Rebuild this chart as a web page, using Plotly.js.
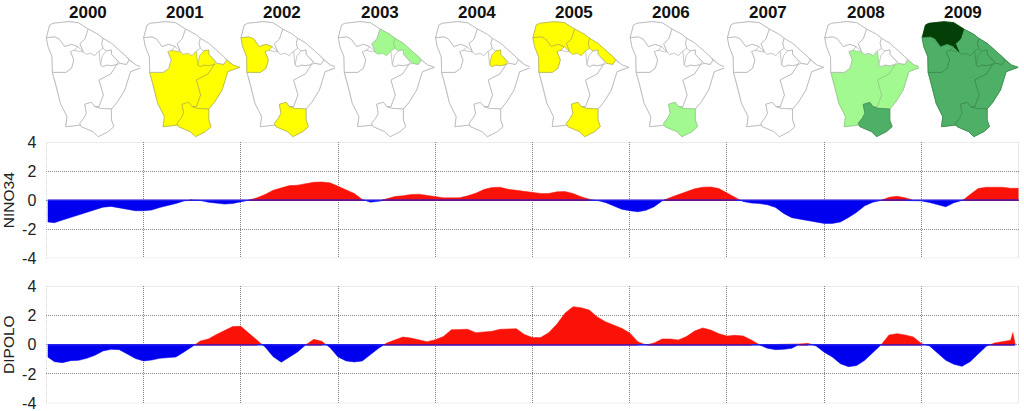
<!DOCTYPE html>
<html><head><meta charset="utf-8">
<script src="https://cdn.plot.ly/plotly-3.0.1.min.js"></script>
<style>html,body{margin:0;padding:0;background:#fff}</style></head>
<body><div id="chart" style="width:1024px;height:411px"></div>
<script>
const years = [2000,2001,2002,2003,2004,2005,2006,2007,2008,2009];
const axisYears = [2000,2001,2002,2003,2004,2005,2006,2007,2008,2009,2010];
const yTicks = [4,2,0,-2,-4];
const yTickText = ['4','2','0','-2','-4'];

// Monthly index values (Jan 2000 onward)
const nino34 = [
 -1.5,-1.55,-1.37,-1.19,-1.0,-.82,-.64,-.48,-.43,-.53,-.66,-.73,
 -.73,-.68,-.5,-.39,-.23,-.05,.02,-.02,-.14,-.23,-.27,-.23,
 -.14,0,.16,.39,.68,.85,1.0,1.03,1.12,1.23,1.25,1.19,
 .96,.73,.46,.05,-.14,-.07,.09,.25,.3,.39,.41,.34,
 .25,.16,.16,.16,.3,.48,.73,.87,.89,.75,.68,.62,
 .55,.46,.46,.57,.59,.46,.23,.07,-.02,-.16,-.37,-.62,
 -.73,-.8,-.7,-.46,-.05,.18,.39,.62,.78,.89,.91,.8,
 .5,.16,-.09,-.2,-.23,-.32,-.5,-.91,-1.21,-1.32,-1.39,-1.5,
 -1.6,-1.6,-1.5,-1.19,-.84,-.39,-.14,-.02,.2,.27,.16,0,
 -.05,-.16,-.32,-.46,-.18,-.05,.39,.8,.89,.91,.89,.82,.82
];
const dipolo = [
 -.84,-1.16,-1.23,-1.09,-1.07,-.93,-.73,-.43,-.32,-.34,-.64,-.95,
 -1.11,-1.05,-.93,-.86,-.84,-.5,-.14,.25,.39,.7,.98,1.23,
 1.25,.8,.3,-.16,-.82,-1.2,-.84,-.5,-.02,.36,.23,-.2,
 -.84,-1.11,-1.18,-1.11,-.66,-.25,.11,.32,.52,.45,.32,.2,
 .34,.55,1.02,1.02,1.05,.82,.89,.91,1.05,1.09,1.09,.7,
 .48,.48,.82,1.39,2.14,2.59,2.52,2.36,1.89,1.57,1.32,1.11,
 .8,.2,-.02,.11,.39,.39,.32,.55,.93,1.14,1.0,.75,
 .59,.64,.59,.32,-.02,-.25,-.34,-.32,-.25,.05,.09,-.09,
 -.52,-.84,-1.3,-1.5,-1.43,-1.07,-.57,-.02,.66,.75,.66,.52,
 .07,-.09,-.61,-1.07,-1.34,-1.48,-1.16,-.66,-.11,.11,.2,.3
];
const dipoloTailX = [2009.94,2009.955,2009.965];
const dipoloTailY = [.82,.3,0];

// Region outlines of the state map, in map units (y grows downward)
const state = [[10,68],[16,45],[20,30],[30,25],[75,20],[105,23],[135,42],[165,58],[180,70],[205,85],[250,125],[258,135],[278,150],[298,157],[280,163],[262,170],[245,225],[222,262],[205,282],[205,315],[212,335],[195,350],[165,365],[150,350],[115,335],[113,330],[68,335],[72,305],[52,265],[40,215],[28,172],[27,125],[15,95]];
const regionCentral = [[82,110],[88,105],[113,110],[138,112],[168,110],[172,150],[180,155],[190,150],[205,152],[222,148],[203,177],[168,195],[181,240],[168,275],[155,275],[145,262],[125,268],[130,295],[122,310],[110,325],[113,330],[68,335],[72,305],[52,265],[40,215],[28,172],[68,172],[85,160],[92,135]];
const regionNorthWest = [[10,68],[16,45],[20,30],[30,25],[75,20],[105,23],[135,42],[125,72],[110,86],[120,110],[104,95],[85,88],[65,95],[48,72],[35,66]];
const regionIbiapaba = [[10,68],[35,66],[48,72],[65,95],[85,88],[104,95],[95,105],[82,110],[92,135],[85,160],[68,172],[28,172],[27,125],[15,95]];
const regionNorth = [[135,42],[165,58],[180,70],[176,85],[180,100],[165,110],[155,122],[143,115],[128,118],[120,110],[110,86],[125,72]];
const regionCoast = [[180,70],[205,85],[250,125],[258,135],[250,148],[232,145],[205,118],[205,105],[190,108],[180,100],[176,85]];
const regionInner = [[172,150],[178,122],[190,108],[205,105],[205,118],[225,140],[222,148],[205,152],[190,150],[180,155]];
const regionEast = [[222,148],[232,145],[250,148],[258,135],[278,150],[298,157],[280,163],[262,170],[245,225],[222,262],[205,282],[170,280],[155,275],[168,275],[181,240],[168,195],[203,177]];
const regionSouth = [[125,268],[145,262],[155,275],[170,280],[205,282],[205,315],[212,335],[195,350],[165,365],[150,350],[115,335],[110,325],[122,310],[130,295]];

const regionList = [regionCentral,regionEast,regionNorth,regionCoast,regionNorthWest,regionIbiapaba,regionInner,regionSouth];
const W='#ffffff', Y='#ffff00', L='#a2f98f', M='#4db066', D='#053f08';
const outline = {[W]:'#b0b0b0',[Y]:'#b4b438',[L]:'#8ccc80',[M]:'#3c8a50',[D]:'#053f08'};
// colours per year, in the order of regionList
const yearColours = [
 [W,W,W,W,W,W,W,W],
 [Y,Y,W,W,W,W,Y,Y],
 [W,W,W,W,W,Y,W,Y],
 [W,W,L,L,W,W,W,W],
 [W,W,W,W,W,W,Y,W],
 [W,W,Y,Y,Y,Y,W,Y],
 [W,W,W,W,W,W,W,L],
 [W,W,W,W,W,W,W,W],
 [L,L,W,W,W,W,W,M],
 [M,M,M,M,D,M,M,M]
];
const stateBase = [W,W,W,W,W,W,W,W,W,M];

const P = {W:1024,H:411};
const plotL=46.3, plotR=1018.7;
const dom = (a,b)=>[a/P.W,b/P.W];
const vdom = (top,bot)=>[1-bot/P.H,1-top/P.H];
const font = 'Liberation Sans, Arial, sans-serif';
const traces=[];

function splitSign(xs,ys){
  const x=[],pos=[],neg=[];
  for(let i=0;i<xs.length;i++){
    if(i>0 && ys[i-1]*ys[i]<0){
      const t=ys[i-1]/(ys[i-1]-ys[i]);
      x.push(xs[i-1]+t*(xs[i]-xs[i-1]));pos.push(0);neg.push(0);
    }
    x.push(xs[i]);pos.push(Math.max(ys[i],0));neg.push(Math.min(ys[i],0));
  }
  return {x,pos,neg};
}
function addSeries(values,tailX,tailY,ax,ay){
  const xs=values.map((_,k)=>k===0?2000.015:2000+k/12).concat(tailX);
  const ys=values.concat(tailY);
  const s=splitSign(xs,ys);
  traces.push({x:s.x,y:s.neg,xaxis:ax,yaxis:ay,mode:'lines',fill:'tozeroy',fillcolor:'#0000ee',line:{color:'#0000ee',width:0.5},hoverinfo:'skip',showlegend:false});
  traces.push({x:s.x,y:s.pos,xaxis:ax,yaxis:ay,mode:'lines',fill:'tozeroy',fillcolor:'#fa1208',line:{color:'#fa1208',width:0.5},hoverinfo:'skip',showlegend:false});
  traces.push({x:s.x,y:s.x.map(()=>0),xaxis:ax,yaxis:ay,mode:'lines',line:{color:'#2020f0',width:1.5},hoverinfo:'skip',showlegend:false});
  traces.push({x:s.x,y:s.pos.map((v,i)=>(v>0||s.pos[i+1]>0)?0:null),xaxis:ax,yaxis:ay,mode:'lines',line:{color:'#66108a',width:1.5},connectgaps:false,hoverinfo:'skip',showlegend:false});
}
addSeries(nino34,[],[],'x','y');
addSeries(dipolo,dipoloTailX,dipoloTailY,'x2','y2');

const layout={width:P.W,height:P.H,margin:{l:0,r:0,t:0,b:0},paper_bgcolor:'#fff',plot_bgcolor:'#fff',showlegend:false,annotations:[],shapes:[]};
function mainX(a){return {domain:dom(plotL,plotR),range:[2000,2010],tickvals:axisYears,showticklabels:false,ticks:'',showline:false,zeroline:false,showgrid:true,gridcolor:'#808080',griddash:'1px,1px',gridwidth:1,anchor:a};}
function mainY(d,a,title){return {domain:d,range:[-4,4],tickvals:yTicks,ticktext:yTickText,tickfont:{family:font,size:16,color:'#222'},ticks:'',ticklabelstandoff:9,ticklabeloverflow:'allow',showline:false,zeroline:false,showgrid:true,gridcolor:'#8c8c8c',griddash:'1px,1px',gridwidth:1,anchor:a,title:{text:title,font:{family:font,size:15.5,color:'#222'},standoff:3}};}
layout.xaxis=mainX('y');
layout.yaxis=mainY(vdom(142,258.3),'x','NINO34');
layout.xaxis2=mainX('y2');
layout.yaxis2=mainY(vdom(286,403.3),'x2','DIPOLO');
[['x','y'],['x2','y2']].forEach(([a,b])=>{
  layout.shapes.push({type:'rect',xref:a,yref:b,x0:2000,x1:2010,y0:-4,y1:4,line:{color:'#b0b0b0',width:1,dash:'1px,1px'},layer:'below'});
});

const mapW=105,mapH=125,mapStep=97.3,mapLeft=43.1,mapTop=15;
years.forEach((yr,i)=>{
  const n=i+3, ax='x'+n, ay='y'+n, left=mapLeft+i*mapStep;
  layout['xaxis'+n]={domain:dom(left,left+mapW),range:[0,mapW*3],visible:false,anchor:'y'+n,fixedrange:true};
  layout['yaxis'+n]={domain:vdom(mapTop,mapTop+mapH),range:[mapH*3,0],visible:false,anchor:'x'+n,fixedrange:true};
  const poly=(pts,col)=>{
    traces.push({x:pts.map(p=>p[0]).concat(pts[0][0]),y:pts.map(p=>p[1]).concat(pts[0][1]),xaxis:ax,yaxis:ay,mode:'lines',fill:'toself',fillcolor:col,line:{color:outline[col],width:0.7},hoverinfo:'skip',showlegend:false});
  };
  poly(state,stateBase[i]);
  regionList.forEach((r,j)=>poly(r,yearColours[i][j]));
  layout.annotations.push({xref:'paper',yref:'paper',x:(88+i*97.2)/P.W,y:1-13/P.H,text:String(yr),showarrow:false,xanchor:'center',yanchor:'middle',font:{family:font,size:17,color:'#111',weight:700}});
});
Plotly.newPlot('chart',traces,layout,{displayModeBar:false,staticPlot:true});
</script></body></html>
